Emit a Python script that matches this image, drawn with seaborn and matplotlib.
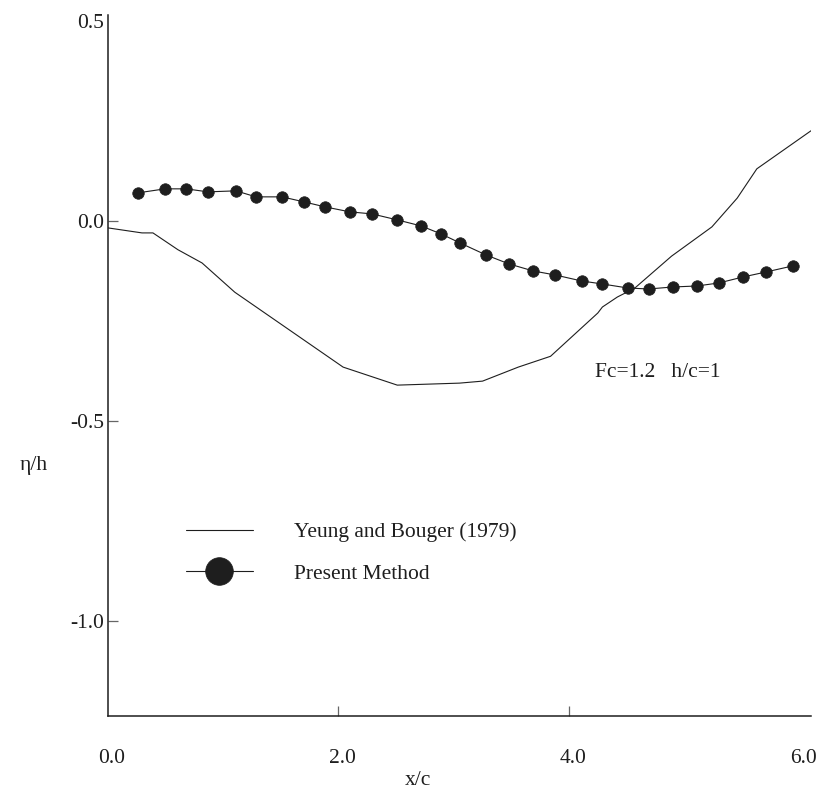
import numpy as np
import pandas as pd
import matplotlib
matplotlib.use("Agg")
import matplotlib.pyplot as plt
import matplotlib.transforms as mtransforms
import seaborn as sns

# Yeung and Bouger (1979) curve
yb_x = [0.0, 0.295, 0.39, 0.607, 0.816, 1.10, 2.04, 2.51, 3.05, 3.25, 3.56, 3.84,
        4.25, 4.29, 4.42, 4.57, 4.89, 5.24, 5.46, 5.63, 6.10]
yb_eta = [-0.0175, -0.03, -0.03, -0.072, -0.105, -0.178, -0.365, -0.41, -0.405, -0.40,
          -0.365, -0.338, -0.23, -0.215, -0.19, -0.168, -0.088, -0.015, 0.057, 0.13, 0.225]

# Present method points
pm_x = [0.26, 0.495, 0.677, 0.868, 1.11, 1.284, 1.51, 1.70, 1.883, 2.10, 2.29, 2.51,
        2.716, 2.89, 3.054, 3.28, 3.48, 3.69, 3.88, 4.11, 4.29, 4.51, 4.69, 4.90,
        5.11, 5.30, 5.51, 5.71, 5.94]
pm_eta = [0.07, 0.08, 0.08, 0.0725, 0.075, 0.06, 0.06, 0.0475, 0.035, 0.0225, 0.0175,
          0.0025, -0.0125, -0.0325, -0.055, -0.085, -0.1075, -0.125, -0.135, -0.15,
          -0.1575, -0.1675, -0.17, -0.165, -0.1625, -0.155, -0.14, -0.1275, -0.1125]

x_ticks = [0.0, 2.0, 4.0, 6.0]
x_tick_labels = ["0.0", "2.0", "4.0", "6.0"]
y_ticks = [0.5, 0.0, -0.5, -1.0]
y_tick_labels = ["0.5", "0.0", "-0.5", "-1.0"]

sns.set_style("white")
plt.rcParams['font.family'] = ['Liberation Serif', 'DejaVu Serif']
ink = '#1e1e1e'
fs = 15.5

fig = plt.figure(figsize=(8.21, 7.92), dpi=100)
ax = fig.add_axes([108 / 821, 1 - 716 / 792, 703 / 821, 701 / 792])

yb = pd.DataFrame({'x': yb_x, 'eta': yb_eta})
pm = pd.DataFrame({'x': pm_x, 'eta': pm_eta})

sns.lineplot(data=yb, x='x', y='eta', ax=ax, color=ink, linewidth=0.8,
             sort=False, label='Yeung and Bouger (1979)')
sns.lineplot(data=pm, x='x', y='eta', ax=ax, color=ink, linewidth=0.8,
             marker='o', markersize=8.3, markeredgecolor=ink, markeredgewidth=0.5,
             sort=False, label='Present Method')

ax.set_xlim(0, 6.1)
ax.set_ylim(-1.236, 0.514)

# spines
sns.despine(ax=ax)
for side in ['left', 'bottom']:
    ax.spines[side].set_color(ink)
    ax.spines[side].set_linewidth(1.1)

# labels on major ticks (no marks), inward marks on minor ticks
ax.xaxis.remove_overlapping_locs = False
ax.yaxis.remove_overlapping_locs = False
ax.set_xticks(x_ticks)
ax.set_xticklabels(x_tick_labels)
ax.set_yticks(y_ticks)
ax.set_yticklabels(y_tick_labels)
ax.set_xticks([2.0, 4.0], minor=True)
ax.set_yticks([0.0, -0.5, -1.0], minor=True)
ax.tick_params(axis='x', which='major', length=0, pad=24, labelsize=fs, labelcolor=ink)
ax.tick_params(axis='y', which='major', length=0, pad=3, labelsize=fs, labelcolor=ink)
ax.tick_params(axis='x', which='minor', bottom=True, direction='in', length=7,
               width=0.9, color='#666666')
ax.tick_params(axis='y', which='minor', left=True, direction='in', length=7,
               width=0.9, color='#666666')

# x tick labels sit a little right of their marks in the original
shift = mtransforms.ScaledTranslation(4 / 100, 0, fig.dpi_scale_trans)
for lab in ax.get_xticklabels():
    lab.set_transform(lab.get_transform() + shift)

ax.set_xlabel('x/c', fontsize=fs, color=ink, va='center')
ax.xaxis.set_label_coords(0.441, -0.092)
ax.set_ylabel('η/h', fontsize=fs, color=ink, rotation=0, ha='center', va='center')
ax.yaxis.set_label_coords(-0.105, 0.358)

ax.text(4.225, -0.378, 'Fc=1.2   h/c=1', fontsize=fs, color=ink, va='center', ha='left')

handles, labels = ax.get_legend_handles_labels()
ax.legend(handles, labels, loc='center left', bbox_to_anchor=(186 / 821, 1 - 553 / 792),
          bbox_transform=fig.transFigure, frameon=False, fontsize=fs,
          markerscale=2.4, handlelength=3.1, handletextpad=1.9, labelspacing=0.98,
          borderpad=0, borderaxespad=0, labelcolor=ink)

fig.savefig('out.png', dpi=100)
